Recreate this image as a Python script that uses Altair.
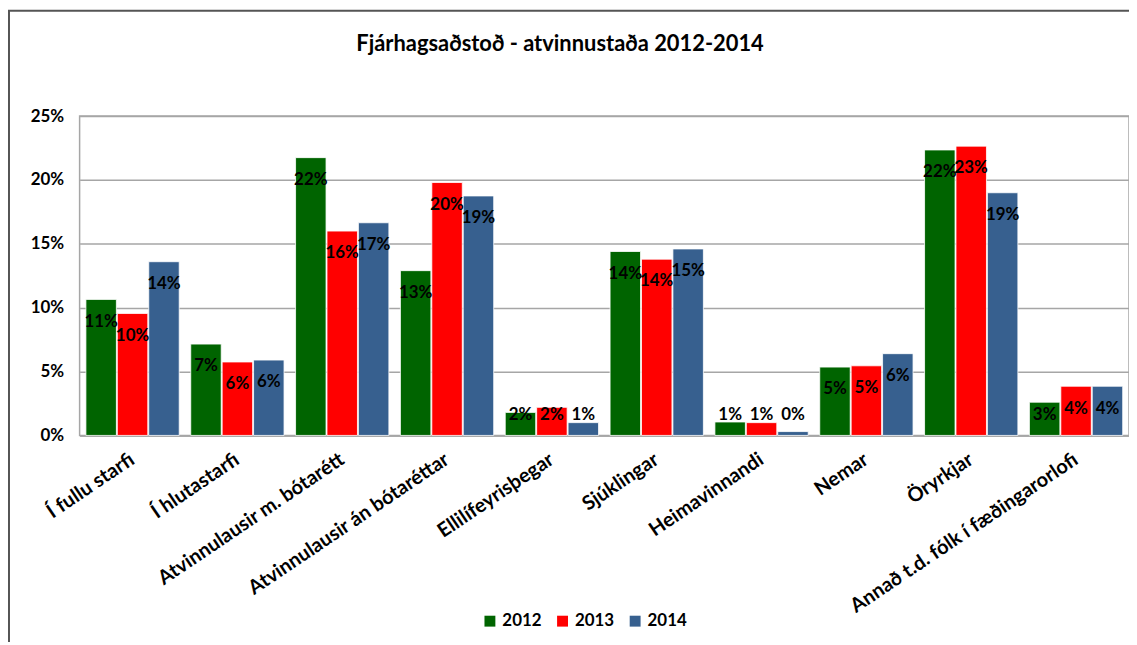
import altair as alt
import pandas as pd

categories = [
    "Í fullu starfi",
    "Í hlutastarfi",
    "Atvinnulausir m. bótarétt",
    "Atvinnulausir án bótaréttar",
    "Ellilífeyrisþegar",
    "Sjúklingar",
    "Heimavinnandi",
    "Nemar",
    "Öryrkjar",
    "Annað t.d. fólk í fæðingarorlofi",
]
years = ["2012", "2013", "2014"]
values_2012 = [0.1065, 0.0715, 0.2175, 0.129, 0.018, 0.144, 0.0105, 0.0535, 0.2235, 0.026]
values_2013 = [0.0955, 0.0575, 0.160, 0.198, 0.022, 0.138, 0.0100, 0.0545, 0.2265, 0.0385]
values_2014 = [0.136, 0.059, 0.1665, 0.1875, 0.010, 0.146, 0.0030, 0.064, 0.190, 0.0385]
colors = ["#006400", "#FF0000", "#37608F"]
title_text = "Fjárhagsaðstoð - atvinnustaða 2012-2014"

rows = []
for yr, vals in zip(years, [values_2012, values_2013, values_2014]):
    for c, v in zip(categories, vals):
        rows.append({"cat": c, "year": yr, "value": v})
df = pd.DataFrame(rows)

FONT = "Lato"

x_enc = alt.X(
    "cat:N",
    sort=categories,
    title=None,
    scale=alt.Scale(paddingInner=0.11, paddingOuter=0.06),
    axis=alt.Axis(
        labelAngle=326,
        labelAlign="right",
        labelBaseline="middle",
        labelPadding=22,
        labelFont=FONT,
        labelFontSize=20,
        labelFontWeight="bold",
        labelColor="#000000",
        ticks=False,
        domainColor="#A6A6A6",
        domainWidth=1.5,
        labelLimit=400,
    ),
)
xoff = alt.XOffset("year:N", sort=years, scale=alt.Scale(paddingInner=0.03))

base = alt.Chart(df)

bars = base.mark_bar(stroke="#FFFFFF", strokeWidth=1, strokeOpacity=0.8).encode(
    x=x_enc,
    xOffset=xoff,
    y=alt.Y(
        "value:Q",
        title=None,
        scale=alt.Scale(domain=[0, 0.25], nice=False),
        axis=alt.Axis(
            format=".0%",
            values=[0, 0.05, 0.10, 0.15, 0.20, 0.25],
            labelFont=FONT,
            labelFontSize=17,
            labelFontWeight="bold",
            labelColor="#000000",
            labelPadding=16,
            ticks=False,
            domain=False,
            gridColor="#A6A6A6",
            gridWidth=1.5,
        ),
    ),
    color=alt.Color(
        "year:N",
        sort=years,
        scale=alt.Scale(domain=years, range=colors),
        legend=alt.Legend(
            title=None,
            orient="none",
            direction="horizontal",
            legendX=404,
            legendY=499,
            symbolType="square",
            symbolSize=120,
            symbolStrokeWidth=0,
            labelFont=FONT,
            labelFontSize=17,
            labelFontWeight="bold",
            labelColor="#000000",
            columnPadding=12,
            labelOffset=4,
        ),
    ),
)

labels = base.mark_text(
    font=FONT, fontSize=17, fontWeight="bold", color="#000000", baseline="middle"
).transform_calculate(
    ly="max(datum.value - 0.0175, 0.0156)"
).encode(
    x=alt.X("cat:N", sort=categories),
    xOffset=xoff,
    y=alt.Y("ly:Q"),
    text=alt.Text("value:Q", format=".0%"),
)

frame_df = pd.DataFrame({"t": [title_text]})
frame_left = alt.Chart(frame_df).mark_rule(color="#555555", strokeWidth=2).encode(
    x=alt.value(-71), y=alt.value(-106), y2=alt.value(540)
)
frame_top = alt.Chart(frame_df).mark_rule(color="#555555", strokeWidth=2).encode(
    x=alt.value(-72), x2=alt.value(1060), y=alt.value(-106)
)
title = alt.Chart(frame_df).mark_text(
    font=FONT, fontSize=22, fontWeight="bold", color="#000000",
    align="center", baseline="middle",
).encode(x=alt.value(483), y=alt.value(-72), text="t:N")

chart = (
    alt.layer(bars, labels, frame_left, frame_top, title)
    .properties(
        width=1055,
        height=321,
        autosize=alt.AutoSizeParams(type="none"),
        padding={"left": 72, "top": 107, "right": 0, "bottom": 206},
    )
    .configure_view(stroke="#A6A6A6", strokeWidth=1.5)
)

chart.save("out.html", embed_options={"renderer": "svg", "actions": False})
